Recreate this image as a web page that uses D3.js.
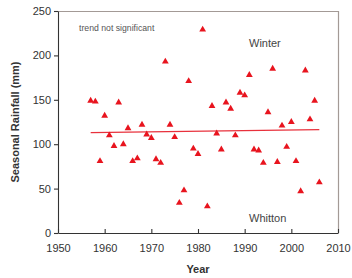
<!DOCTYPE html>
<html>
<head>
<meta charset="utf-8">
<script src="https://cdn.jsdelivr.net/npm/d3@7"></script>
<style>
  body { margin: 0; background: #fff; }
  text { font-family: "Liberation Sans", Arial, sans-serif; }
</style>
</head>
<body>
<svg id="chart" width="352" height="278"></svg>
<script>
// Winter seasonal rainfall at Whitton
let years = [1957, 1958, 1959, 1960, 1961, 1962, 1963, 1964, 1965, 1966,
  1967, 1968, 1969, 1970, 1971, 1972, 1973, 1974, 1975, 1976,
  1977, 1978, 1979, 1980, 1981, 1982, 1983, 1984, 1985, 1986,
  1987, 1988, 1989, 1990, 1991, 1992, 1993, 1994, 1995, 1996,
  1997, 1998, 1999, 2000, 2001, 2002, 2003, 2004, 2005, 2006];
let rainfall = [149, 148, 81, 132, 110, 98, 147, 100, 118, 81,
  84, 122, 111, 107, 83, 79, 193, 122, 108, 34,
  48, 171, 95, 89, 229, 30, 143, 112, 94, 147,
  140, 110, 158, 155, 178, 94, 93, 79, 136, 185,
  80, 121, 97, 125, 81, 47, 183, 128, 149, 57];
let trendYears = [1957, 2006];
let trendValues = [113, 116.5];
let xTicks = [1950, 1960, 1970, 1980, 1990, 2000, 2010];
let yTicks = [0, 50, 100, 150, 200, 250];

let svg = d3.select('#chart');
let margin = {left: 58, right: 14, top: 11, bottom: 45};
let w = 352 - margin.left - margin.right;
let h = 278 - margin.top - margin.bottom;

let x = d3.scaleLinear().domain([1950, 2010]).range([margin.left, margin.left + w]);
let y = d3.scaleLinear().domain([0, 250]).range([margin.top + h, margin.top]);

// frame (top and right)
svg.append('path')
  .attr('d', `M${x(1950)},${y(250) + 0.5}H${x(2010) + 0.5}V${y(0)}`)
  .style('fill', 'none')
  .style('stroke', '#a39a96')
  .style('stroke-width', 1.2);

let xAxis = d3.axisBottom(x).tickValues(xTicks).tickFormat(d3.format('d')).tickSizeInner(-4).tickSizeOuter(0).tickPadding(11);
let gx = svg.append('g').attr('transform', `translate(0, ${y(0)})`).call(xAxis);

let yAxis = d3.axisLeft(y).tickValues(yTicks).tickSizeInner(4).tickSizeOuter(0).tickPadding(3);
let gy = svg.append('g').attr('transform', `translate(${x(1950)}, 0)`).call(yAxis);

[gx, gy].forEach(g => {
  g.selectAll('path, line').style('stroke', '#333').style('stroke-width', 1.1);
  g.selectAll('text').style('font-size', '11px').style('fill', '#333')
    .style('font-family', '"Liberation Sans", Arial, sans-serif');
});

// trend line
let lineFn = d3.line().x((d, i) => x(trendYears[i])).y(d => y(d));
svg.append('path')
  .attr('d', lineFn(trendValues))
  .style('fill', 'none')
  .style('stroke', '#e8313c')
  .style('stroke-width', 1.2);

// points
svg.append('g').selectAll('path')
  .data(rainfall)
  .join('path')
  .attr('transform', (d, i) => `translate(${x(years[i])}, ${y(d)})`)
  .attr('d', d3.symbol().type(d3.symbolTriangle).size(20))
  .style('fill', '#e8141e');

// labels
svg.append('text').attr('x', 79).attr('y', 31).text('trend not significant')
  .style('font-size', '8.7px').style('fill', '#555');
svg.append('text').attr('x', 249).attr('y', 47).text('Winter')
  .style('font-size', '11px').style('fill', '#444');
svg.append('text').attr('x', 249).attr('y', 222).text('Whitton')
  .style('font-size', '11px').style('fill', '#444');

svg.append('text')
  .attr('x', x(1980)).attr('y', 273)
  .attr('text-anchor', 'middle')
  .text('Year')
  .style('font-size', '11px').style('font-weight', 'bold').style('fill', '#333');

svg.append('text')
  .attr('transform', `translate(19, ${y(125)}) rotate(-90)`)
  .attr('text-anchor', 'middle')
  .text('Seasonal Rainfall (mm)')
  .style('font-size', '11px').style('font-weight', 'bold').style('fill', '#333');
</script>
</body>
</html>
